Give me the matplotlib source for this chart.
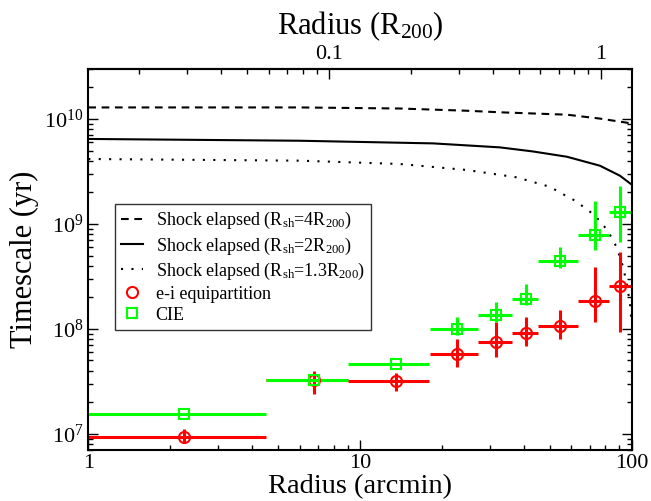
import matplotlib
matplotlib.use("Agg")
import matplotlib.pyplot as plt
import numpy as np

plt.rcParams['font.family'] = ['Liberation Serif', 'DejaVu Serif']
plt.rcParams['mathtext.fontset'] = 'custom'
plt.rcParams['mathtext.rm'] = 'Liberation Serif'
plt.rcParams['mathtext.it'] = 'Liberation Serif:italic'

# radial bins (arcmin)
r_center = [2.25, 6.77, 13.6, 22.7, 31.7, 40.8, 54.5, 73.3, 90.6]
r_lo = [1.0, 4.50, 9.03, 18.1, 27.1, 36.4, 45.3, 63.6, 82.7]
r_hi = [4.50, 9.03, 18.0, 27.1, 36.4, 45.3, 63.6, 82.7, 99.1]

# e-i equipartition timescale (yr)
t_ei = [9.4e6, 3.22e7, 3.17e7, 5.78e7, 7.45e7, 9.08e7, 1.07e8, 1.83e8, 2.55e8]
t_ei_lo = [8.3e6, 2.37e7, 2.58e7, 4.31e7, 5.37e7, 6.82e7, 8.03e7, 1.16e8, 9.3e7]
t_ei_hi = [1.12e7, 4.0e7, 3.76e7, 8.03e7, 1.16e8, 1.31e8, 1.52e8, 3.86e8, 5.37e8]

# CIE timescale (yr)
t_cie = [1.53e7, 3.27e7, 4.64e7, 1.0e8, 1.37e8, 1.91e8, 4.47e8, 7.91e8, 1.29e9]
t_cie_lo = [1.53e7, 3.27e7, 4.64e7, 8.83e7, 1.17e8, 1.67e8, 3.81e8, 5.65e8, 6.68e8]
t_cie_hi = [1.53e7, 3.27e7, 4.64e7, 1.29e8, 1.82e8, 2.68e8, 5.98e8, 1.64e9, 2.32e9]

# shock elapsed curves
r4 = [1.0, 6.02, 14.0, 24.7, 32.7, 57.8, 76.4, 100.0]
t4 = [1.29e10, 1.29e10, 1.26e10, 1.20e10, 1.16e10, 1.10e10, 1.01e10, 9.08e9]
r2 = [1.0, 6.02, 18.6, 32.7, 43.3, 57.8, 76.4, 90.6, 100.0]
t2 = [6.46e9, 6.21e9, 5.86e9, 5.37e9, 4.91e9, 4.37e9, 3.59e9, 2.88e9, 2.37e9]
r13 = [1.0, 6.02, 14.0, 24.7, 37.8, 50.0, 55.3, 61.8, 70.2, 76.4, 82.0, 88.1,
       93.1, 95.9, 98.6, 100.0]
t13 = [4.16e9, 4.01e9, 3.73e9, 3.27e9, 2.78e9, 2.26e9, 1.95e9, 1.67e9, 1.31e9,
       1.07e9, 8.45e8, 5.98e8, 3.86e8, 2.68e8, 1.74e8, 1.12e8]

R200 = 76.9  # arcmin

fig = plt.figure(figsize=(6.51, 5.01), dpi=100)
ax = fig.add_axes([0.1356, 0.1018, 0.8347, 0.7605])

ax.plot(r4, t4, color='black', lw=1.5, linestyle=(0, (3.7, 2.7)),
        label=r'Shock elapsed (R$_{\rm sh}$=4R$_{200}$)')
ax.plot(r2, t2, color='black', lw=1.5, label=r'Shock elapsed (R$_{\rm sh}$=2R$_{200}$)')
ax.plot(r13, t13, color='black', lw=1.5, linestyle=(0, (1, 4)),
        label=r'Shock elapsed (R$_{\rm sh}$=1.3R$_{200}$)')

rc = np.array(r_center)
xerr = [rc - np.array(r_lo), np.array(r_hi) - rc]

ei = np.array(t_ei)
ax.errorbar(rc, ei, xerr=xerr, yerr=[ei - np.array(t_ei_lo), np.array(t_ei_hi) - ei],
            fmt='none', ecolor='red', elinewidth=2.2, capsize=0)
cie = np.array(t_cie)
ax.errorbar(rc, cie, xerr=xerr, yerr=[cie - np.array(t_cie_lo), np.array(t_cie_hi) - cie],
            fmt='none', ecolor='#00ff00', elinewidth=2.2, capsize=0)

ax.plot(rc, ei, linestyle='none', marker='o', ms=8, mfc='none', mec='red', mew=1.5,
        label='e-i equipartition')
ax.plot(rc, cie, linestyle='none', marker='s', ms=7, mfc='none', mec='#00ff00', mew=1.5,
        label='CIE')

ax.set_xscale('log')
ax.set_yscale('log')
ax.set_xlim(1, 100)
ax.set_ylim(7e6, 3e10)
ax.set_xticks([1, 10, 100])
ax.set_xticklabels(['1', '10', '100'])

ax.tick_params(which='both', direction='in', labelsize=16, width=1.0)
ax.tick_params(axis='y', which='both', right=True)
ax.tick_params(axis='x', which='both', top=False)
ax.tick_params(which='major', length=7)
ax.tick_params(which='minor', length=3.6)
ax.tick_params(axis='x', pad=3)
for s in ax.spines.values():
    s.set_linewidth(1.5)

ax.set_xlabel('Radius (arcmin)', fontsize=20.5, labelpad=0.5)
ax.set_ylabel('Timescale (yr)', fontsize=22, labelpad=4)

top = ax.secondary_xaxis('top', functions=(lambda x: x / R200, lambda x: x * R200))
top.set_xticks([0.1, 1])
top.set_xticklabels(['0.1', '1'])
top.tick_params(which='both', direction='in', labelsize=16, width=1.0)
top.tick_params(which='major', length=7)
top.tick_params(which='minor', length=3.6)
top.spines['top'].set_linewidth(1.5)
top.set_xlabel(r'Radius (R$_{200}$)', fontsize=22, labelpad=8)

leg = ax.legend(loc='upper left', bbox_to_anchor=(0.049, 0.6457), borderaxespad=0,
                fontsize=13, frameon=True, fancybox=False, edgecolor='black',
                handlelength=1.2, handletextpad=0.7, labelspacing=0.22, borderpad=0.35)
leg.get_frame().set_linewidth(1.0)

fig.savefig('out.png', dpi=100)
